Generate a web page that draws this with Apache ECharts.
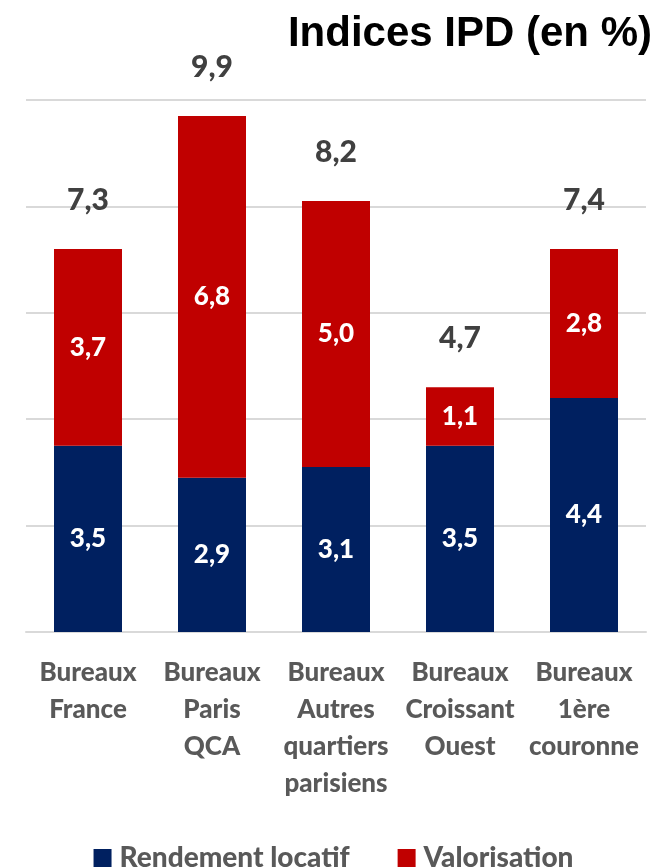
<!DOCTYPE html>
<html>
<head>
<meta charset="utf-8">
<script src="https://cdn.jsdelivr.net/npm/echarts@6/dist/echarts.min.js"></script>
<style>
body { margin: 0; padding: 0; background: #fff; }
#main { width: 667px; height: 867px; }
</style>
</head>
<body>
<div id="main"></div>
<script>
const categories = ['Bureaux\nFrance', 'Bureaux\nParis\nQCA', 'Bureaux\nAutres\nquartiers\nparisiens', 'Bureaux\nCroissant\nOuest', 'Bureaux\n1ère\ncouronne']
const rendement = [3.5, 2.9, 3.1, 3.5, 4.4]
const valorisation = [3.7, 6.8, 5.0, 1.1, 2.8]
const totals = [7.3, 9.9, 8.2, 4.7, 7.4]

const fmt = function (v) { return v.toFixed(1).replace('.', ',') }
const labelFont = 'Lato'
const heavy = 900
const chart = echarts.init(document.getElementById('main'))

chart.setOption({
  animation: false,
  title: {
    text: 'Indices IPD (en %)',
    right: 10,
    top: 8,
    textStyle: { fontFamily: 'Liberation Sans', fontWeight: 'bold', fontSize: 42, color: '#000' }
  },
  legend: {
    data: ['Rendement locatif', 'Valorisation'],
    top: 839,
    left: 'center',
    icon: 'rect',
    itemWidth: 18,
    itemHeight: 18,
    itemGap: 48,
    textStyle: { fontFamily: labelFont, fontWeight: heavy, fontSize: 28, color: '#595959', padding: [0, 0, 0, 3] }
  },
  grid: { left: 26, right: 21, top: 100, bottom: 235, containLabel: false },
  xAxis: {
    type: 'category',
    data: categories,
    axisLine: { lineStyle: { color: '#d9d9d9', width: 2 } },
    axisTick: { show: false },
    axisLabel: {
      interval: 0,
      margin: 22,
      lineHeight: 37,
      fontFamily: labelFont,
      fontWeight: heavy,
      fontSize: 26,
      color: '#595959'
    }
  },
  yAxis: {
    type: 'value',
    min: 0,
    max: 10,
    interval: 2,
    axisLabel: { show: false },
    axisLine: { show: false },
    axisTick: { show: false },
    splitLine: { lineStyle: { color: '#d9d9d9', width: 2 } }
  },
  series: [
    {
      name: 'Rendement locatif',
      type: 'bar',
      stack: 'total',
      barWidth: 68,
      data: rendement,
      itemStyle: { color: '#002060' },
      label: {
        show: true,
        position: 'inside',
        formatter: function (p) { return fmt(p.value) },
        fontFamily: labelFont, fontWeight: heavy, fontSize: 26, color: '#fff'
      }
    },
    {
      name: 'Valorisation',
      type: 'bar',
      stack: 'total',
      barWidth: 68,
      data: valorisation,
      itemStyle: { color: '#c00000' },
      label: {
        show: true,
        position: 'inside',
        formatter: function (p) { return fmt(p.value) },
        fontFamily: labelFont, fontWeight: heavy, fontSize: 26, color: '#fff'
      }
    },
    {
      name: 'Total',
      type: 'bar',
      stack: 'total',
      barWidth: 68,
      data: totals.map(function () { return 0 }),
      itemStyle: { color: 'transparent' },
      label: {
        show: true,
        position: 'top',
        distance: 34,
        formatter: function (p) { return fmt(totals[p.dataIndex]) },
        fontFamily: labelFont, fontWeight: heavy, fontSize: 30, color: '#404040'
      }
    }
  ]
})
</script>
</body>
</html>
